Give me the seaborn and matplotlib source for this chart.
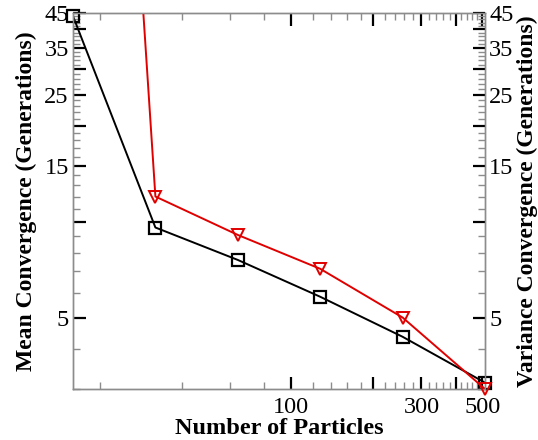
import numpy as np
import matplotlib
matplotlib.use('Agg')
import matplotlib.pyplot as plt
from matplotlib.ticker import FixedLocator, FuncFormatter, NullFormatter
import seaborn as sns

# data
particles = [16, 32, 64, 128, 256, 512]
mean_conv = [44.0, 9.6, 7.6, 5.83, 4.37, 3.14]
var_conv = [100000.0, 12.0, 9.1, 7.13, 5.02, 3.0]

x_major = [100, 200, 300, 400, 500]
x_labels = {100: '100', 300: '300', 500: '500'}
y_major = [5, 10, 15, 20, 25, 30, 35, 40, 45]
y_labels = [5, 15, 25, 35, 45]

sns.set_style('white')
plt.rcParams['font.family'] = ['Liberation Serif', 'DejaVu Serif']
plt.rcParams['text.color'] = 'black'
plt.rcParams['axes.labelcolor'] = 'black'
plt.rcParams['xtick.labelcolor'] = 'black'
plt.rcParams['ytick.labelcolor'] = 'black'

fig = plt.figure(figsize=(5.38, 4.4), dpi=100)
ax = fig.add_axes([73 / 538, 1 - 389 / 440, (485 - 73) / 538, (389 - 13) / 440])
ax2 = ax.twinx()

red = '#e00000'

# lines (clipped), markers drawn unclipped on top
sns.lineplot(x=particles, y=mean_conv, ax=ax, color='black', lw=1.4,
             estimator=None, sort=False)
sns.lineplot(x=particles, y=var_conv, ax=ax2, color=red, lw=1.4,
             estimator=None, sort=False)
ax.plot(particles, mean_conv, ls='none', marker='s', ms=8, mfc='none',
        mec='black', mew=1.6, clip_on=False, zorder=5)
ax2.plot(particles, var_conv, ls='none', marker='v', ms=9, mfc='none',
         mec=red, mew=1.4, clip_on=False, zorder=5)

for a in (ax, ax2):
    a.set_xscale('log')
    a.set_yscale('log')
    a.set_xlim(16, 512)
    a.set_ylim(3, 45)
    a.yaxis.set_major_locator(FixedLocator(y_major))
    a.yaxis.set_minor_locator(FixedLocator([v for v in range(3, 45) if v % 5 != 0]))
    a.yaxis.set_major_formatter(FuncFormatter(lambda v, p: str(int(round(v))) if int(round(v)) in y_labels else ''))
    a.yaxis.set_minor_formatter(NullFormatter())
    a.tick_params(axis='both', which='major', direction='in', length=9, width=1.6,
                  color='black', labelcolor='black', labelsize=17.5, pad=3)
    a.tick_params(axis='both', which='minor', direction='in', length=5, width=1.0,
                  color='#8c8c8c')
    for s in a.spines.values():
        s.set_color('#8c8c8c')
        s.set_linewidth(1.0)
        s.set_visible(True)

ax.xaxis.set_major_locator(FixedLocator(x_major))
ax.xaxis.set_minor_locator(FixedLocator([v for v in range(20, 500, 20) if v % 100 != 0]))
ax.xaxis.set_major_formatter(FuncFormatter(lambda v, p: x_labels.get(int(round(v)), '')))
ax.xaxis.set_minor_formatter(NullFormatter())
ax.tick_params(axis='x', which='both', top=True, bottom=True)
ax.tick_params(axis='x', which='major', pad=6)
ax.tick_params(axis='y', which='both', left=True, right=False)
ax2.tick_params(axis='y', which='both', left=False, right=True)
ax2.tick_params(axis='x', which='both', top=False, bottom=False, labelbottom=False, labeltop=False)

ax.set_xlabel('Number of Particles', fontsize=17.5, fontweight='bold', labelpad=0)
ax.set_ylabel('Mean Convergence (Generations)', fontsize=17, fontweight='bold', labelpad=5)
ax2.set_ylabel('Variance Convergence (Generations)', fontsize=17, fontweight='bold', labelpad=2)

fig.savefig('out.png', dpi=100)
